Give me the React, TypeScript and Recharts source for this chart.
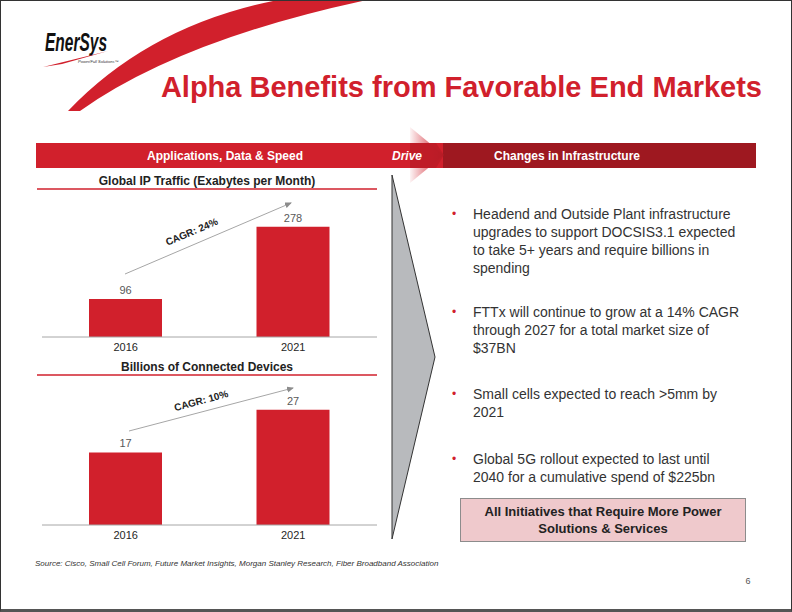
import React from 'react';
import { BarChart, Bar, XAxis, YAxis, LabelList } from 'recharts';

const years = ['2016', '2021'];
const ipTraffic = [96, 278];
const devices = [17, 27];

const bullets = [
  ['Headend and Outside Plant infrastructure', 'upgrades to support DOCSIS3.1 expected', 'to take 5+ years and require billions in', 'spending'],
  ['FTTx will continue to grow at a 14% CAGR', 'through 2027 for a total market size of', '$37BN'],
  ['Small cells expected to reach >5mm by', '2021'],
  ['Global 5G rollout expected to last until', '2040 for a cumulative spend of $225bn'],
];
const bulletTops = [205, 303, 385, 450];

const FONT = '"Liberation Sans", Arial, sans-serif';
const RED = '#D1202C';
const DARK_RED = '#9E1820';

const ipData = years.map((y, i) => ({ year: y, value: ipTraffic[i] }));
const devData = years.map((y, i) => ({ year: y, value: devices[i] }));

const MiniBar = ({ data, max, plotH }: { data: any[]; max: number; plotH: number }) => (
  <BarChart width={335} height={20 + plotH + 30} data={data} margin={{ top: 20, right: 0, left: 0, bottom: 0 }}>
    <XAxis
      dataKey="year"
      axisLine={{ stroke: '#A6A6A6' }}
      tickLine={false}
      tickSize={4}
      tick={{ fill: '#262626', fontSize: 11, fontFamily: FONT }}
    />
    <YAxis hide domain={[0, max]} />
    <Bar dataKey="value" fill={RED} barSize={73} isAnimationActive={false}>
      <LabelList dataKey="value" position="top" offset={5} fill="#595959" fontSize={11} fontFamily={FONT} />
    </Bar>
  </BarChart>
);

export default function App() {
  return (
    <div
      style={{
        position: 'absolute', left: 0, top: 0, width: 792, height: 612, boxSizing: 'border-box',
        border: '1px solid #333', borderBottom: '3px solid #555', background: '#fff', fontFamily: FONT, overflow: 'hidden',
      }}
    >
      <svg width={792} height={612} style={{ position: 'absolute', left: -1, top: -1 }}>
        <defs>
          <linearGradient id="chev" x1="0" y1="0" x2="1" y2="0">
            <stop offset="0" stopColor="#D1202C" stopOpacity={0.05} />
            <stop offset="0.55" stopColor="#D1202C" stopOpacity={0.6} />
            <stop offset="1" stopColor="#C41E29" stopOpacity={0.95} />
          </linearGradient>
          <marker id="arr" markerWidth="8" markerHeight="8" refX="6" refY="3" orient="auto">
            <path d="M0,0 L7,3 L0,6 Z" fill="#8C8C8C" />
          </marker>
        </defs>
        {/* swoosh */}
        <path d="M68,111 Q150,25 278,0 L367,0 Q180,40 80,111 Z" fill={RED} />
        {/* logo */}
        <text x={45} y={51} textLength={62} lengthAdjust="spacingAndGlyphs" fontWeight="bold" fontStyle="italic" fontSize={25} fill="#111">EnerSys</text>
        <path d="M43,67 L108,51 L62,64 Z" fill={RED} />
        <text x={78} y={63} fontSize={4} fontStyle="italic" fill="#333">Power/Full Solutions™</text>
        {/* title */}
        <text x={762} y={97} textAnchor="end" fontSize={29} fontWeight="bold" fill={RED}>Alpha Benefits from Favorable End Markets</text>
        {/* header bands */}
        <rect x={36} y={143} width={410} height={25} fill={RED} />
        <rect x={443} y={143} width={313} height={25} fill={DARK_RED} />
        <path d="M410,127 L444,155 L410,183 Z" fill="url(#chev)" />
        <path d="M410,143 L436,143 L444,155 L436,168 L410,168 Z" fill={DARK_RED} opacity={0.35} />
        <text x={225} y={160} textAnchor="middle" fontSize={12} fontWeight="bold" fill="#fff">Applications, Data &amp; Speed</text>
        <text x={407} y={160} textAnchor="middle" fontSize={12} fontWeight="bold" fontStyle="italic" fill="#fff">Drive</text>
        <text x={567} y={160} textAnchor="middle" fontSize={12} fontWeight="bold" fill="#fff">Changes in Infrastructure</text>
        {/* chart titles */}
        <text x={207} y={185} textAnchor="middle" fontSize={12} fontWeight="bold" fill="#222">Global IP Traffic (Exabytes per Month)</text>
        <line x1={37} y1={189} x2={377} y2={189} stroke={RED} strokeWidth={1.5} />
        <text x={207} y={371} textAnchor="middle" fontSize={12} fontWeight="bold" fill="#222">Billions of Connected Devices</text>
        <line x1={37} y1={375} x2={377} y2={375} stroke={RED} strokeWidth={1.5} />
        {/* gray chevron */}
        <path d="M392,175 L435,357 L392,539 Z" fill="#B8BABD" stroke="#333" strokeWidth={1} />
        {/* bullets */}
        {bullets.map((lines, i) => (
          <g key={i}>
            <text x={452} y={bulletTops[i] + 13} fontSize={12} fill={RED}>•</text>
            {lines.map((l, j) => (
              <text key={j} x={473} y={bulletTops[i] + 14 + j * 18} fontSize={14} fill="#333">{l}</text>
            ))}
          </g>
        ))}
        {/* bottom box */}
        <rect x={460.5} y={498.5} width={285} height={43} fill="#EFC9CC" stroke="#8C8C8C" />
        <text x={603} y={516} textAnchor="middle" fontSize={13} fontWeight="bold" fill="#222">All Initiatives that Require More Power</text>
        <text x={603} y={533} textAnchor="middle" fontSize={13} fontWeight="bold" fill="#222">Solutions &amp; Services</text>
        {/* source & page */}
        <text x={35} y={566} fontSize={8} fontStyle="italic" fill="#333">Source: Cisco, Small Cell Forum, Future Market Insights, Morgan Stanley Research, Fiber Broadband Association</text>
        <text x={748} y={584} textAnchor="middle" fontSize={9} fill="#555">6</text>
      </svg>

      <div style={{ position: 'absolute', left: 41, top: 197 }}>
        <MiniBar data={ipData} max={300} plotH={119} />
      </div>
      <div style={{ position: 'absolute', left: 41, top: 376 }}>
        <MiniBar data={devData} max={30} plotH={128} />
      </div>

      <svg width={792} height={612} style={{ position: 'absolute', left: -1, top: -1, pointerEvents: 'none' }}>
        <line x1={125} y1={274} x2={291} y2={203} stroke="#A6A6A6" strokeWidth={1} markerEnd="url(#arr)" />
        <text x={193} y={235} textAnchor="middle" fontSize={10} fontWeight="bold" fill="#222" transform="rotate(-23 193 235)">CAGR: 24%</text>
        <line x1={129} y1={431} x2={293} y2={388} stroke="#A6A6A6" strokeWidth={1} markerEnd="url(#arr)" />
        <text x={202} y={404} textAnchor="middle" fontSize={10} fontWeight="bold" fill="#222" transform="rotate(-15 202 404)">CAGR: 10%</text>
      </svg>
    </div>
  );
}
